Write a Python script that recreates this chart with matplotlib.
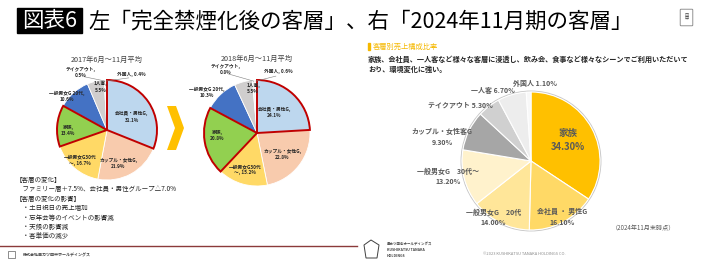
import numpy as np
import matplotlib
matplotlib.use('Agg')
import matplotlib.pyplot as plt
from matplotlib.patches import Rectangle, Polygon, Circle, FancyBboxPatch

plt.rcParams['font.family'] = ['Noto Sans CJK JP', 'DejaVu Sans']

W, H = 710, 264

# データ（左2つの円グラフ：完全禁煙化前後）
cats_left = ['会社員・男性G', 'カップル・女性G', '一般男女G30代～', '家族',
             '一般男女G 20代', '1人客', 'テイクアウト', '外国人']
vals_2017 = [31.1, 21.9, 16.7, 13.4, 10.6, 5.5, 0.5, 0.4]
vals_2018 = [24.1, 22.8, 15.2, 20.8, 10.3, 5.5, 0.8, 0.6]
cols_left = ['#BDD7EE', '#F8CBAD', '#FFD966', '#92D050',
             '#4472C4', '#D0CECE', '#F2F2F2', '#F2F2F2']
highlight = ['会社員・男性G', '家族']

# データ（右の円グラフ：2024年11月期）
cats_2024 = ['家族', '会社員・男性G', '一般男女G　20代', '一般男女G　30代～',
             'カップル・女性客G', 'テイクアウト', '一人客', '外国人']
vals_2024 = [34.3, 16.1, 14.0, 13.2, 9.3, 5.3, 6.7, 1.1]
cols_2024 = ['#FFC000', '#FFD966', '#FFE699', '#FFF2CC',
             '#A6A6A6', '#D0D0D0', '#EDEDED', '#F8F8F8']

# ラベル位置（半径倍率, 角度補正）
lab_2017 = [(0.56, -6), (0.70, -10), (0.81, -1), (0.78, 5), (1.05, 8), (0.87, -5), (1.26, 22), (1.22, -24)]
lab_2018 = [(0.51, 4), (0.63, -3), (0.73, -2), (0.75, -6), (1.22, 8), (0.84, -10), (1.34, 23), (1.22, -20)]
lab_2024 = [(0.62, 1), (0.93, 1.5), (0.98, -7), (1.22, -4), (1.33, 11), (1.30, 14), (1.16, 12), (1.13, -5)]

LIM = 1.6


def pie_axes(fig, cx, cy, r):
    ax = fig.add_axes([(cx - LIM * r) / W, 1 - (cy + LIM * r) / H, 2 * LIM * r / W, 2 * LIM * r / H])
    ax.axis('off')
    return ax


def fix_limits(ax):
    # ax.pie がリミットを上書きするので後から設定し直す
    ax.set_xlim(-LIM, LIM)
    ax.set_ylim(-LIM, LIM)
    ax.set_aspect('equal')


def left_label(name, v):
    if name.startswith('一般男女G30'):
        return f'一般男女G30代\n～, {v}%'
    if name == '外国人':
        return f'{name}, {v}%'
    return f'{name},\n{v}%'


def draw_left_pie(fig, cx, cy, r, vals, pos, title):
    ax = pie_axes(fig, cx, cy, r)
    wedges, _ = ax.pie(vals, colors=cols_left, startangle=90, counterclock=False,
                       wedgeprops=dict(edgecolor='white', linewidth=0.6))
    fix_limits(ax)
    for w, name in zip(wedges, cats_left):
        if name in highlight:
            w.set_edgecolor('#C00000')
            w.set_linewidth(1.4)
            w.set_zorder(3)
    for w, name, v, (f, d) in zip(wedges, cats_left, vals, pos):
        a = np.deg2rad((w.theta1 + w.theta2) / 2)
        b = a + np.deg2rad(d)
        x, y = f * np.cos(b), f * np.sin(b)
        ax.text(x, y, left_label(name, v), ha='center', va='center', fontsize=3.4,
                fontweight='bold', color='#262626', linespacing=1.3, zorder=5)
        if v < 1:
            ax.plot([np.cos(a) * 0.98, x * 0.9], [np.sin(a) * 0.98, y * 0.93],
                    color='#7F7F7F', lw=0.4, zorder=4)
    ax.text(0, 1.4, title, ha='center', va='center', fontsize=5.2, color='#404040')


fig = plt.figure(figsize=(W / 100, H / 100), dpi=100)
fig.patch.set_facecolor('white')

# 背景用の全面Axes
bg = fig.add_axes([0, 0, 1, 1])
bg.set_xlim(0, W)
bg.set_ylim(H, 0)
bg.axis('off')

# 見出し
bg.add_patch(Rectangle((17, 8), 65, 25, color='black'))
bg.text(49.5, 21, '図表6', color='white', fontsize=15.5, ha='center', va='center')
bg.text(88, 21, '左「完全禁煙化後の客層」、右「2024年11月期の客層」', color='black',
        fontsize=15.5, ha='left', va='center')

# 右上のロゴ
bg.add_patch(FancyBboxPatch((681, 10), 11, 15, boxstyle='round,pad=0.8',
                            fc='white', ec='#808080', lw=0.6))
bg.text(686.5, 17.5, '田\n中', fontsize=3, ha='center', va='center', color='#404040', linespacing=0.9)

# 左の円グラフ
draw_left_pie(fig, 107, 130, 50, vals_2017, lab_2017, '2017年6月～11月平均')
draw_left_pie(fig, 257, 133, 53, vals_2018, lab_2018, '2018年6月～11月平均')

# 矢印
bg.add_patch(Polygon([[167, 106], [176, 106], [184, 128], [176, 150], [167, 150], [175, 128]],
                     closed=True, color='#FFC000', lw=0))

# 左下のテキスト
block = ['【客層の変化】',
         '　ファミリー層＋7.5%、会社員・男性グループ△7.0%',
         '【客層の変化の影響】',
         '　・土日祝日の売上増加',
         '　・忘年会等のイベントの影響減',
         '　・天候の影響減',
         '　・客単価の減少']
for i, line in enumerate(block):
    bg.text(16, 180 + i * 9.4, line, fontsize=4.7, ha='left', va='center', color='#262626')

bg.plot([0, 357], [246, 246], color='#8B3A3A', lw=1.0)
bg.add_patch(Rectangle((8, 251), 7, 7, fc='white', ec='#606060', lw=0.5))
bg.text(23, 255, '株式会社串カツ田中ホールディングス', fontsize=2.9, ha='left', va='center',
        color='#404040', fontweight='bold')

# 右側のテキスト
bg.add_patch(Rectangle((368, 43), 2, 7, color='#F5B800'))
bg.text(373, 47, '客層別売上構成比率', fontsize=5.2, color='#F5B800', ha='left', va='center')
bg.text(368, 59, '家族、会社員、一人客など様々な客層に浸透し、飲み会、食事など様々なシーンでご利用いただいて',
        fontsize=5.15, color='#262626', ha='left', va='center', fontweight='bold')
bg.text(368, 69, 'おり、環境変化に強い。', fontsize=5.15, color='#262626', ha='left', va='center',
        fontweight='bold')

# 右の円グラフ
axr = pie_axes(fig, 531, 161, 69)
wedges, _ = axr.pie(vals_2024, colors=cols_2024, startangle=90, counterclock=False,
                    wedgeprops=dict(edgecolor='white', linewidth=0.8))
fix_limits(axr)
axr.add_patch(Circle((0, 0), 1.012, fc='none', ec='#C8C8C8', lw=0.9, zorder=0))
for i, (w, name, v, (f, d)) in enumerate(zip(wedges, cats_2024, vals_2024, lab_2024)):
    a = np.deg2rad((w.theta1 + w.theta2) / 2 + d)
    x, y = f * np.cos(a), f * np.sin(a)
    if i == 0:
        axr.text(x, y, f'{name}\n{v:.2f}%', fontsize=6.8, ha='center', va='center',
                 color='#595959', fontweight='bold', linespacing=1.6)
    elif v < 8:
        axr.text(x, y, f'{name} {v:.2f}%', fontsize=5, ha='center', va='center',
                 color='#595959', fontweight='bold')
    else:
        label = name.replace('・', ' ・ ') if i == 1 else name
        axr.text(x, y, f'{label}\n{v:.2f}%', fontsize=5, ha='center', va='center',
                 color='#595959', fontweight='bold', linespacing=1.55)

bg.text(643, 228, '（2024年11月末時点）', fontsize=4.4, color='#595959', ha='center', va='center')

# 右下ロゴ・コピーライト
bg.add_patch(Polygon([[364, 245], [371, 240], [379, 245], [377, 258], [366, 258]],
                     closed=True, fc='white', ec='#404040', lw=0.7))
bg.text(387, 244, '串カツ田中ホールディングス', fontsize=2.5, ha='left', va='center', color='#404040',
        fontweight='bold')
bg.text(387, 250, 'KUSHIKATSU TANAKA', fontsize=2.5, ha='left', va='center', color='#404040',
        fontweight='bold')
bg.text(387, 256, 'HOLDINGS', fontsize=2.5, ha='left', va='center', color='#404040', fontweight='bold')
bg.text(524, 254, '©2023 KUSHIKATSU TANAKA HOLDINGS CO.', fontsize=2.9, ha='center', va='center',
        color='#8C8C8C')

fig.savefig('out.png', dpi=100, facecolor='white')
